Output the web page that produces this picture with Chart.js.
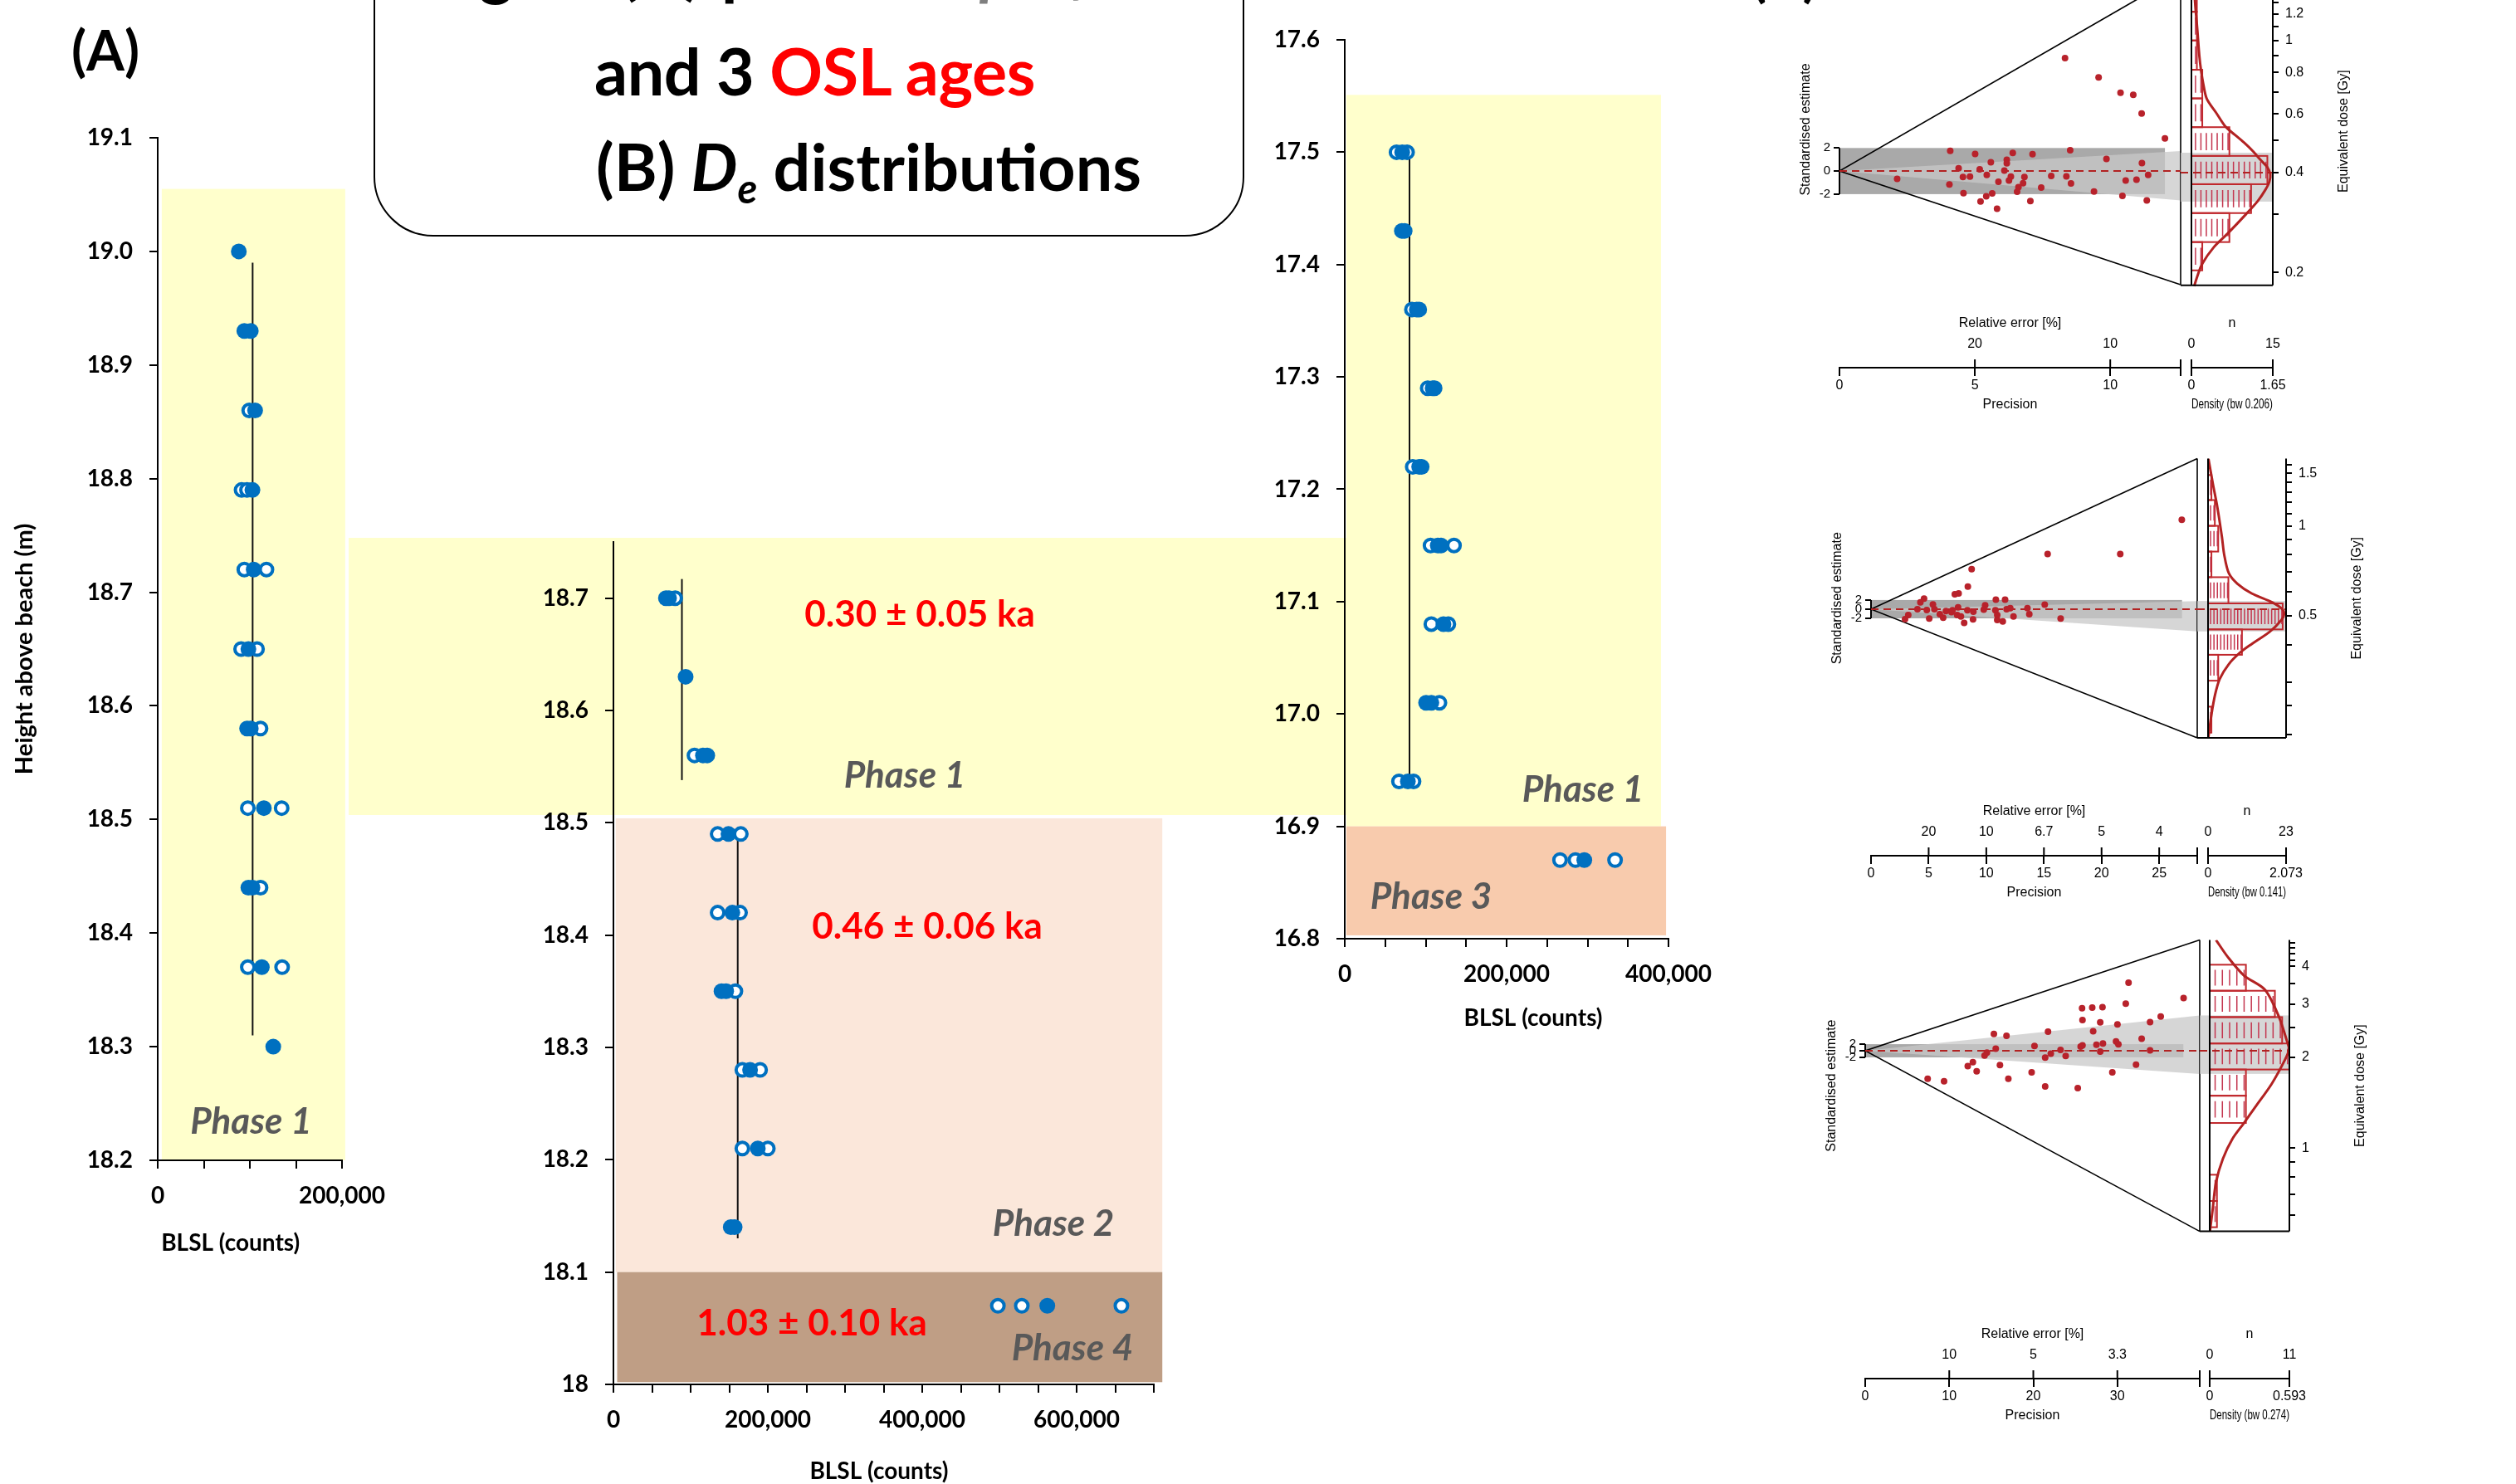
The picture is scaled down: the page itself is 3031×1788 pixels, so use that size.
<!DOCTYPE html>
<html lang="en">
<head>
<meta charset="utf-8">
<title>BLSL profiles, OSL ages and De distributions</title>
<script src="https://cdn.jsdelivr.net/npm/chart.js@4.4.1/dist/chart.umd.min.js"></script>
<style>
  html, body { margin: 0; padding: 0; background: #ffffff; }
  body { position: relative; width: 3031px; height: 1788px; overflow: hidden;
         font-family: Lato, "Open Sans", "DejaVu Sans", sans-serif; }
  canvas, .abs { position: absolute; }
  #phase1Link { left: 420px; top: 648px; width: 1202px; height: 334px; background: #FFFFCC; }
  #titleBox { left: 450px; top: -230px; width: 1045px; height: 511px;
              border: 2.5px solid #000; border-radius: 72px; background: #fff; }
  .head { font-weight: 700; font-size: 79px; line-height: 1; white-space: nowrap; color: #000; }
  .panel { font-weight: 700; font-size: 66px; line-height: 1; white-space: nowrap; color: #000; }
  .red { color: #FF0000; }
  .soft { color: #7F7F7F; font-style: italic; }
  .sub { font-size: 0.62em; font-style: italic; position: relative; top: 0.3em; }
</style>
</head>
<body>
<div class="abs" id="phase1Link"></div>
<div class="abs" id="titleBox"></div>
<div class="abs head" style="left:512px; top:-79px;">Figure</div>
<div class="abs head" style="left:747px; top:-79px;">(A)</div>
<div class="abs head" style="left:869px; top:-79px;">portable</div>
<div class="abs head soft" style="left:1180px; top:-79px;">profiles</div>
<div class="abs head" style="left:716px; top:45px; letter-spacing:-0.4px;">and 3 <span class="red">OSL ages</span></div>
<div class="abs head" style="left:718px; top:160px;">(B) <i>D</i><span class="sub">e</span> distributions</div>
<div class="abs panel" style="left:86px; top:27px;">(A)</div>
<div class="abs panel" style="left:2110px; top:-63px;">(B)</div>

<script>
// ================= (A) BLSL profiles =================
// Sampling heights (m above beach) and BLSL counts of each aliquot (filled / open markers).

// Left section
const leftHeights = [19.00, 18.93, 18.86, 18.79, 18.72, 18.65, 18.58, 18.51, 18.44, 18.37, 18.30];
const leftFilled  = [[88000], [94000, 101000], [105700], [102800], [104200], [98400], [97000, 101000], [115200], [98400, 102800], [113000], [125400]];
const leftOpen    = [[], [], [99300], [91000, 96900], [94000, 118000], [90500, 107800], [111600], [97800, 134500], [111600], [97800, 135000], []];
const leftMeans   = [{ x: 103000, from: 18.31, to: 18.99 }];
const leftPhases  = [{ name: 'Phase 1', x: [4400, 203500], y: [18.2, 19.055] }];

// Middle section
const midHeights = [18.70, 18.63, 18.56, 18.49, 18.42, 18.35, 18.28, 18.21, 18.14, 18.07];
const midFilled  = [[68000, 72000], [93500], [116000, 121500], [149000], [154000], [140000, 146000], [177000], [187000], [152000, 157000], [562000]];
const midOpen    = [[80000], [], [105000], [135000, 165000], [135000, 164000], [158000], [167000, 190000], [167000, 200000], [], [498000, 529000, 658000]];
const midMeans   = [{ x: 88700, from: 18.538, to: 18.717 }, { x: 161000, from: 18.13, to: 18.496 }];
const midPhases  = [{ name: 'Phase 2', x: [3000, 711000], y: [18.1, 18.504] },
                    { name: 'Phase 4', x: [4800, 711000], y: [18.002, 18.1] }];
const midAges    = ['0.30 ± 0.05 ka', '0.46 ± 0.06 ka', '1.03 ± 0.10 ka'];

// Right section
const rightHeights = [17.50, 17.43, 17.36, 17.29, 17.22, 17.15, 17.08, 17.01, 16.94, 16.87];
const rightFilled  = [[71000], [70600, 74000], [89000, 92000], [108600, 111000], [92000, 95000], [115000, 119000], [122000], [100500, 107000], [78000], [296000]];
const rightOpen    = [[64000, 77000], [], [83000], [102500], [84000], [106000, 135000], [107000, 128000], [117000], [67000, 85000], [266000, 285000, 334000]];
const rightMeans   = [{ x: 80000, from: 16.943, to: 17.50 }];
const rightPhases  = [{ name: 'Phase 1', x: [2000, 390800], y: [16.9, 17.551] },
                      { name: 'Phase 3', x: [2000, 397000], y: [16.803, 16.9] }];

// ================= (B) abanico plots =================
// Upper plot
const topPrecision   = [8.33, 9.57, 10.38, 10.85, 11.16, 12.02, 4.09, 5.01, 6.40, 7.13, 8.52, 9.86, 11.17, 4.40, 5.18, 5.59, 6.18, 6.18, 6.09, 5.44, 4.56, 4.82, 6.33, 6.83, 2.13, 5.87, 6.26, 7.82, 8.38, 8.55, 6.78, 6.61, 10.57, 10.97, 11.40, 4.06, 7.45, 6.56, 4.58, 5.64, 5.42, 5.21, 7.05, 9.40, 10.45, 11.35, 5.82];
const topStdEstimate = [9.79, 8.13, 6.79, 6.62, 5.00, 2.83, 1.75, 1.49, 1.58, 1.47, 1.80, 1.06, 0.70, 0.24, 0.15, 0.77, 0.98, 0.67, 0.05, -0.34, -0.52, -0.48, -0.48, -0.52, -0.67, -0.93, -0.82, -0.43, -0.46, -1.08, -1.06, -1.39, -0.82, -0.75, -0.34, -1.16, -1.44, -1.80, -1.92, -1.94, -2.19, -2.64, -2.60, -1.78, -2.16, -2.55, -3.27];
const topBinEdges    = [0.203, 0.247, 0.302, 0.369, 0.449, 0.548, 0.669, 0.816, 1.0, 1.22, 1.49];
const topCounts      = [2, 7, 11, 14, 7, 2, 2, 1, 1, 1];
const topKdeDose     = [0.182, 0.195, 0.212, 0.238, 0.262, 0.30, 0.329, 0.355, 0.375, 0.395, 0.415, 0.437, 0.465, 0.492, 0.52, 0.55, 0.606, 0.668, 0.74, 0.808, 0.9, 1.076, 1.3, 1.55];
const topKdeDensity  = [0.056, 0.12, 0.215, 0.45, 0.735, 1.11, 1.35, 1.50, 1.58, 1.60, 1.54, 1.40, 1.24, 1.07, 0.88, 0.69, 0.50, 0.31, 0.24, 0.197, 0.16, 0.12, 0.074, 0.05];
const topDoseLabels  = [0.2, 0.4, 0.6, 0.8, 1, 1.2];
const topDoseMinor   = [0.3, 0.5, 0.7, 0.9, 1.1, 1.3, 1.4, 1.5];
const topPrecTicks   = [0, 5, 10];
const topRelErrAt    = [5, 10];
const topRelErrText  = ['20', '10'];

// Middle plot
const midPrecision   = [26.96, 15.32, 21.62, 8.73, 8.40, 7.27, 7.60, 4.60, 4.28, 5.37, 10.83, 11.63, 15.07, 9.90, 4.03, 4.84, 7.55, 8.36, 8.88, 9.78, 10.79, 11.76, 12.08, 13.57, 13.73, 5.97, 6.50, 6.98, 5.05, 6.26, 7.47, 7.80, 8.08, 8.85, 10.95, 10.95, 11.43, 12.36, 3.23, 2.95, 16.45, 5.50, 7.07];
const midStdEstimate = [19.5, 12.02, 12.02, 8.73, 4.92, 3.25, 3.44, 2.28, 1.50, 1.05, 2.08, 2.08, 0.98, 0.85, 0.0, -0.18, 0.40, -0.25, -0.56, -0.10, -0.25, 0.0, 0.20, 0.20, -1.08, -1.08, -0.43, -0.63, -2.06, -1.86, -1.27, -1.61, -3.02, -2.24, -1.27, -2.37, -2.69, -1.61, -1.27, -2.17, -2.06, 0.0, -0.25];
const midBinEdges    = [0.203, 0.248, 0.303, 0.37, 0.45, 0.55, 0.673, 0.82, 1.0, 1.22, 1.48];
const midCounts      = [1, 0, 3, 10, 22, 6, 1, 3, 2, 1];
const midKdeDose     = [0.196, 0.233, 0.273, 0.307, 0.344, 0.377, 0.402, 0.442, 0.484, 0.505, 0.525, 0.554, 0.594, 0.64, 0.695, 0.8, 0.916, 1.15, 1.38, 1.68];
const midKdeDensity  = [0.01, 0.09, 0.19, 0.31, 0.55, 0.86, 1.16, 1.64, 1.95, 2.02, 1.98, 1.71, 1.16, 0.78, 0.55, 0.43, 0.37, 0.25, 0.13, 0.01];
const midDoseLabels  = [0.5, 1, 1.5];
const midDoseMinor   = [0.2, 0.25, 0.3, 0.4, 0.6, 0.7, 0.8, 0.9, 1.1, 1.2, 1.3, 1.4, 1.6];
const midPrecTicks   = [0, 5, 10, 15, 20, 25];
const midRelErrAt    = [5, 10, 15, 20, 25];
const midRelErrText  = ['20', '10', '6.7', '5', '4'];

// Lower plot
const lowPrecision   = [7.43, 9.38, 12.20, 12.81, 13.26, 14.20, 14.48, 15.31, 15.53, 16.03, 16.81, 17.03, 19.80, 20.14, 21.41, 21.41, 21.75, 22.08, 23.24, 23.85, 25.29, 25.63, 25.80, 25.85, 25.85, 27.01, 27.12, 27.51, 27.96, 27.96, 28.23, 28.28, 29.40, 29.84, 30.01, 30.12, 31.00, 31.33, 32.22, 32.89, 33.89, 33.89, 35.16, 37.88];
const lowStdEstimate = [-8.54, -9.24, -4.65, -3.46, -6.26, -1.46, -0.56, 5.13, 0.63, -4.34, 4.52, -8.54, -6.54, 1.44, -2.07, -10.83, 5.83, -0.86, 0.23, -1.57, -11.34, 1.24, 12.90, 9.32, 1.64, 13.10, 5.93, 1.84, -0.25, 8.61, 13.21, 2.22, -6.54, 2.83, 8.03, 1.94, 14.32, 20.71, -4.24, 3.64, 8.71, 0.13, 10.43, 16.01];
const lowBinEdges    = [0.546, 0.667, 0.815, 0.995, 1.21, 1.49, 1.82, 2.22, 2.715, 3.32, 4.05];
const lowCounts      = [1, 1, 0, 0, 5, 5, 11, 10, 9, 5];
const lowKdeDose     = [0.53, 0.63, 0.77, 0.92, 1.07, 1.21, 1.37, 1.63, 1.96, 2.12, 2.26, 2.73, 3.35, 3.73, 4.30, 4.89];
const lowKdeDensity  = [0.002, 0.023, 0.047, 0.098, 0.168, 0.255, 0.341, 0.461, 0.56, 0.59, 0.575, 0.514, 0.41, 0.255, 0.134, 0.047];
const lowDoseLabels  = [1, 2, 3, 4];
const lowDoseMinor   = [0.6, 0.7, 0.8, 0.9, 2.5, 3.5, 4.2, 4.4, 4.6, 4.8];
const lowPrecTicks   = [0, 10, 20, 30];
const lowRelErrAt    = [10, 20, 30];
const lowRelErrText  = ['10', '5', '3.3'];

// ================= styles =================
const BLUE = '#0070C0';
const PHASE_FILL = { 'Phase 1': '#FFFFCC', 'Phase 2': '#FBE7DA', 'Phase 3': '#F8CBAD', 'Phase 4': '#BF9E85' };
const LABEL_FONT = 'Lato, "Open Sans", sans-serif';
const R_FONT = '"Liberation Sans", Arial, sans-serif';
const PHASE_NOTE = { font: 'italic bold 44px ' + LABEL_FONT, color: '#595959' };
const AGE_NOTE = { font: 'bold 44px ' + LABEL_FONT, color: '#FF0000' };
const DOT_RED = '#B8222B';
const LINE_RED = '#B22222';
const HIST_RED = '#C0282D';
const RUG_RED = '#C4364F';
const GREY_BAR = '#A9A9A9';
const GREY_WEDGE = 'rgba(200,200,200,0.75)';

function addCanvas(id, box) {
  const c = document.createElement('canvas');
  c.id = id;
  c.width = box.w; c.height = box.h;
  c.style.left = box.x + 'px'; c.style.top = box.y + 'px';
  c.style.width = box.w + 'px'; c.style.height = box.h + 'px';
  document.body.appendChild(c);
  return c;
}

// phase shading behind each profile
const phaseBands = (bands) => ({
  id: 'phaseBands',
  beforeDraw(chart) {
    const { ctx, scales: { x, y } } = chart;
    ctx.save();
    bands.forEach(b => {
      const x0 = x.getPixelForValue(b.x[0]), x1 = x.getPixelForValue(b.x[1]);
      const y0 = y.getPixelForValue(b.y[1]), y1 = y.getPixelForValue(b.y[0]);
      ctx.fillStyle = PHASE_FILL[b.name];
      ctx.fillRect(x0, y0, x1 - x0, y1 - y0);
    });
    ctx.restore();
  }
});

// text annotations placed in data coordinates
const notes = (items) => ({
  id: 'notes',
  afterDatasetsDraw(chart) {
    const { ctx, scales: { x, y } } = chart;
    ctx.save();
    ctx.textAlign = 'center';
    ctx.textBaseline = 'middle';
    items.forEach(n => {
      ctx.font = n.style.font;
      ctx.fillStyle = n.style.color;
      ctx.fillText(n.text, x.getPixelForValue(n.x), y.getPixelForValue(n.y));
    });
    ctx.restore();
  }
});

// x-axis caption, centred on a chosen count value below the tick labels
const axisCaption = (text, at, drop) => ({
  id: 'axisCaption',
  afterDraw(chart) {
    const { ctx, scales: { x }, chartArea } = chart;
    ctx.save();
    ctx.font = 'bold 28px ' + LABEL_FONT;
    ctx.fillStyle = '#000';
    ctx.textAlign = 'center';
    ctx.textBaseline = 'middle';
    ctx.fillText(text, x.getPixelForValue(at), chartArea.bottom + drop);
    ctx.restore();
  }
});

function profileChart(cfg) {
  const B = cfg.box, A = cfg.area;
  const cv = addCanvas(cfg.id, B);
  const filledPts = [], openPts = [];
  cfg.heights.forEach((h, i) => {
    cfg.filled[i].forEach(v => filledPts.push({ x: v, y: h }));
    cfg.open[i].forEach(v => openPts.push({ x: v, y: h }));
  });
  const meanSets = cfg.means.map(m => ({
    data: [{ x: m.x, y: m.from }, { x: m.x, y: m.to }],
    showLine: true, borderColor: '#111', borderWidth: 2, pointRadius: 0
  }));
  const tickFont = { family: LABEL_FONT, size: 28, weight: 'bold' };
  const axisLine = { color: '#000', width: 2 };
  const tickMarks = { drawOnChartArea: false, drawTicks: true, tickLength: 10, color: '#000', lineWidth: 2 };
  return new Chart(cv, {
    type: 'scatter',
    data: { datasets: [
      { data: filledPts, pointStyle: 'circle', pointRadius: 9.5, pointBackgroundColor: BLUE, pointBorderWidth: 0 },
      { data: openPts, pointStyle: 'circle', pointRadius: 7.5, pointBackgroundColor: '#fff', pointBorderColor: BLUE, pointBorderWidth: 4 },
      ...meanSets
    ]},
    options: {
      animation: false, responsive: false, events: [],
      layout: { padding: { left: 0, top: A.t - B.y, right: B.x + B.w - A.r, bottom: 0 } },
      plugins: { legend: { display: false }, tooltip: { enabled: false } },
      scales: {
        x: {
          type: 'linear', min: 0, max: cfg.xMax,
          afterFit: s => { s.height = B.y + B.h - A.b; },
          ticks: { stepSize: 50000, autoSkip: false, maxRotation: 0, includeBounds: false, padding: 16,
                   color: '#000', font: tickFont,
                   callback: v => (v % 200000 === 0 ? v.toLocaleString('en-US') : '') },
          grid: tickMarks, border: axisLine,
          title: { display: false }
        },
        y: {
          type: 'linear', min: cfg.yMin, max: cfg.yMax,
          afterFit: s => { s.width = A.l - B.x; },
          ticks: { stepSize: 0.1, autoSkip: false, includeBounds: false, padding: 20,
                   color: '#000', font: tickFont, callback: cfg.yLabel },
          grid: tickMarks, border: axisLine,
          title: cfg.yTitle
            ? { display: true, text: cfg.yTitle, color: '#000',
                font: { family: LABEL_FONT, size: 29, weight: 'bold' }, padding: { top: 12, bottom: 0 } }
            : { display: false }
        }
      }
    },
    plugins: [phaseBands(cfg.bands), notes(cfg.notes), axisCaption('BLSL (counts)', cfg.captionAt, cfg.captionDrop)]
  });
}

const oneDecimal = v => (Math.round(v * 10) / 10).toFixed(1);

profileChart({
  id: 'profileLeft', box: { x: 0, y: 0, w: 480, h: 1540 }, area: { l: 190, t: 166, r: 417, b: 1398 },
  xMax: 200000, yMin: 18.2, yMax: 19.1, yLabel: oneDecimal, yTitle: 'Height above beach (m)',
  captionAt: 79000, captionDrop: 100,
  heights: leftHeights, filled: leftFilled, open: leftOpen, means: leftMeans, bands: leftPhases,
  notes: [{ text: 'Phase 1', x: 101300, y: 18.234, style: PHASE_NOTE }]
});

profileChart({
  id: 'profileMiddle', box: { x: 600, y: 600, w: 830, h: 1250 }, area: { l: 739, t: 653, r: 1390, b: 1668 },
  xMax: 700000, yMin: 18.0, yMax: 18.75, captionAt: 344000, captionDrop: 105,
  yLabel: v => { const r = Math.round(v * 10) / 10; return r === 18 ? '18' : r.toFixed(1); },
  heights: midHeights, filled: midFilled, open: midOpen, means: midMeans, bands: midPhases,
  notes: [
    { text: midAges[0], x: 396800, y: 18.685, style: AGE_NOTE },
    { text: midAges[1], x: 406500, y: 18.407, style: AGE_NOTE },
    { text: midAges[2], x: 257000, y: 18.054, style: AGE_NOTE },
    { text: 'Phase 1', x: 377400, y: 18.542, style: PHASE_NOTE },
    { text: 'Phase 2', x: 570000, y: 18.143, style: PHASE_NOTE },
    { text: 'Phase 4', x: 594600, y: 18.032, style: PHASE_NOTE }
  ]
});

profileChart({
  id: 'profileRight', box: { x: 1440, y: 0, w: 640, h: 1300 }, area: { l: 1620, t: 48, r: 2010, b: 1131 },
  xMax: 400000, yMin: 16.8, yMax: 17.6, yLabel: oneDecimal, captionAt: 232800, captionDrop: 96,
  heights: rightHeights, filled: rightFilled, open: rightOpen, means: rightMeans, bands: rightPhases,
  notes: [
    { text: 'Phase 1', x: 294400, y: 16.932, style: PHASE_NOTE },
    { text: 'Phase 3', x: 106700, y: 16.837, style: PHASE_NOTE }
  ]
});

// ---------- abanico plot: radial part + KDE / histogram part ----------
function abanico(D, L) {
  const P = D.precMax;
  const lnSpan = Math.log(D.doseMax / D.doseMin);
  const stretch = (L.axisY - L.plotTop) / (L.plotBottom - L.plotTop);
  const sTop = Math.log(D.doseMax / D.central) * P;
  const sBottom = Math.log(D.doseMin / D.central) * P;
  const sLow = sTop - lnSpan * P * stretch;
  const doseLow = D.doseMax * Math.exp(-lnSpan * stretch);
  const gap = L.kdeL - L.xR;
  const axisH = L.top + L.height - L.axisY;
  const small = { family: R_FONT, size: 16 };
  const radBox = { x: L.radX, y: L.top, w: L.radW, h: L.height };
  const kdeBox = { x: L.kdeX, y: L.top, w: L.kdeW, h: L.height };

  const radialFrame = {
    id: 'radialFrame',
    beforeDatasetsDraw(chart) {
      const { ctx, scales: { x, y } } = chart;
      const X = v => x.getPixelForValue(v), Y = v => y.getPixelForValue(v);
      ctx.save();
      ctx.fillStyle = GREY_BAR;
      ctx.fillRect(X(0), Y(2), X(D.barEnd) - X(0), Y(-2) - Y(2));
      ctx.fillStyle = GREY_WEDGE;
      ctx.beginPath();
      ctx.moveTo(X(0), Y(0));
      ctx.lineTo(X(P), Y(Math.log(D.wedge[1] / D.central) * P));
      ctx.lineTo(X(P), Y(Math.log(D.wedge[0] / D.central) * P));
      ctx.closePath();
      ctx.fill();
      ctx.strokeStyle = '#000';
      ctx.lineWidth = 1.6;
      ctx.beginPath();
      ctx.moveTo(X(P), Y(sTop)); ctx.lineTo(X(0), Y(0)); ctx.lineTo(X(P), Y(sBottom));
      ctx.moveTo(X(P), Y(sTop)); ctx.lineTo(X(P), Y(sBottom));
      ctx.stroke();
      ctx.lineWidth = 2;
      ctx.beginPath(); ctx.moveTo(X(0), Y(2)); ctx.lineTo(X(0), Y(-2)); ctx.stroke();
      ctx.strokeStyle = LINE_RED;
      ctx.setLineDash([9, 6]);
      ctx.beginPath(); ctx.moveTo(X(0), Y(0)); ctx.lineTo(X(P), Y(0)); ctx.stroke();
      ctx.restore();
    },
    afterDraw(chart) {
      const { ctx, scales: { x, y }, chartArea } = chart;
      const base = chartArea.bottom;
      ctx.save();
      ctx.strokeStyle = '#000';
      ctx.lineWidth = 2;
      ctx.beginPath();
      D.relErrAt.concat([P]).forEach(v => {
        const px = x.getPixelForValue(v);
        ctx.moveTo(px, base); ctx.lineTo(px, base - 10);
      });
      ctx.stroke();
      ctx.fillStyle = '#000';
      ctx.font = '16px ' + R_FONT;
      ctx.textAlign = 'center';
      ctx.textBaseline = 'middle';
      D.relErrAt.forEach((v, i) => ctx.fillText(D.relErrText[i], x.getPixelForValue(v), base - 28));
      ctx.fillText('Relative error [%]', (chartArea.left + chartArea.right) / 2, base - 53);
      const mid = (y.getPixelForValue(sTop) + y.getPixelForValue(sBottom)) / 2;
      ctx.translate(chartArea.left - 40, mid);
      ctx.rotate(-Math.PI / 2);
      ctx.fillText('Standardised estimate', 0, 0);
      ctx.restore();
    }
  };

  new Chart(addCanvas(L.id + 'Radial', radBox), {
    type: 'scatter',
    data: { datasets: [{
      data: D.precision.map((p, i) => ({ x: p, y: D.std[i] })),
      pointRadius: 4, pointBackgroundColor: DOT_RED, pointBorderWidth: 0
    }]},
    options: {
      animation: false, responsive: false, events: [],
      layout: { padding: { left: 0, top: L.plotTop - L.top, right: radBox.x + radBox.w - L.xR, bottom: 0 } },
      plugins: { legend: { display: false }, tooltip: { enabled: false } },
      scales: {
        x: {
          type: 'linear', min: 0, max: P,
          afterBuildTicks: s => { s.ticks = D.precTicks.concat([P]).map(v => ({ value: v })); },
          afterFit: s => { s.height = axisH; },
          ticks: { autoSkip: false, maxRotation: 0, padding: 1.5, color: '#000', font: small,
                   callback: v => (D.precTicks.includes(v) ? String(v) : '') },
          grid: { drawOnChartArea: false, tickLength: 10, color: '#000', lineWidth: 2 },
          border: { color: '#000', width: 2 },
          title: { display: true, text: 'Precision', color: '#000', font: small,
                   padding: { top: 0, bottom: axisH - 9.6 - 45 } }
        },
        y: {
          type: 'linear', min: sLow, max: sTop,
          afterBuildTicks: s => { s.ticks = [2, 0, -2].map(v => ({ value: v })); },
          afterFit: s => { s.width = L.apexX - radBox.x; },
          ticks: { autoSkip: false, padding: 4, color: '#000', font: { family: R_FONT, size: 15 },
                   callback: v => String(v) },
          grid: { drawOnChartArea: false, tickLength: 7, color: '#000', lineWidth: 2 },
          border: { display: false }
        }
      }
    },
    plugins: [radialFrame]
  });

  const kdeFrame = {
    id: 'kdeFrame',
    beforeDatasetsDraw(chart) {
      const { ctx, scales: { x, y }, chartArea } = chart;
      const X = v => x.getPixelForValue(v), Y = v => y.getPixelForValue(v);
      const left = chartArea.left - gap;
      const unit = D.densityMax / D.countMax;
      ctx.save();
      ctx.fillStyle = GREY_WEDGE;
      ctx.fillRect(left, Y(D.wedge[1]), chartArea.right - left, Y(D.wedge[0]) - Y(D.wedge[1]));
      D.counts.forEach((n, i) => {
        if (!n) return;
        const yTop = Y(D.binEdges[i + 1]), yBot = Y(D.binEdges[i]);
        const h = yBot - yTop;
        ctx.strokeStyle = HIST_RED;
        ctx.lineWidth = 2;
        ctx.strokeRect(X(0), yTop, X(n * unit) - X(0), h);
        ctx.strokeStyle = RUG_RED;
        ctx.lineWidth = 1.5;
        ctx.beginPath();
        for (let k = 0; k < n; k++) {
          const px = X((k + 0.75) * unit);
          ctx.moveTo(px, yTop + h * 0.2);
          ctx.lineTo(px, yBot - h * 0.2);
        }
        ctx.stroke();
      });
      ctx.strokeStyle = LINE_RED;
      ctx.lineWidth = 2;
      ctx.setLineDash([9, 6]);
      ctx.beginPath();
      ctx.moveTo(left, Y(D.central)); ctx.lineTo(chartArea.right, Y(D.central));
      ctx.stroke();
      ctx.restore();
    },
    afterDatasetsDraw(chart) {
      const { ctx, scales: { y }, chartArea } = chart;
      const yMin = y.getPixelForValue(D.doseMin);
      ctx.save();
      ctx.strokeStyle = '#000';
      ctx.lineWidth = 2;
      ctx.beginPath();
      ctx.moveTo(chartArea.left, chartArea.top); ctx.lineTo(chartArea.left, yMin);
      ctx.moveTo(chartArea.left - gap, yMin); ctx.lineTo(chartArea.right, yMin);
      ctx.moveTo(chartArea.right, chartArea.top); ctx.lineTo(chartArea.right, yMin);
      ctx.stroke();
      ctx.restore();
    },
    afterDraw(chart) {
      const { ctx, scales: { x, y }, chartArea } = chart;
      const base = chartArea.bottom;
      ctx.save();
      ctx.strokeStyle = '#000';
      ctx.lineWidth = 2;
      ctx.beginPath();
      [0, D.densityMax].forEach(v => {
        const px = x.getPixelForValue(v);
        ctx.moveTo(px, base); ctx.lineTo(px, base - 10);
      });
      ctx.stroke();
      ctx.fillStyle = '#000';
      ctx.font = '16px ' + R_FONT;
      ctx.textAlign = 'center';
      ctx.textBaseline = 'middle';
      ctx.fillText('0', x.getPixelForValue(0), base - 28);
      ctx.fillText(String(D.countMax), x.getPixelForValue(D.densityMax), base - 28);
      ctx.fillText('n', (chartArea.left + chartArea.right) / 2, base - 53);
      const mid = (y.getPixelForValue(D.doseMax) + y.getPixelForValue(D.doseMin)) / 2;
      ctx.translate(chartArea.right + 86, mid);
      ctx.rotate(-Math.PI / 2);
      ctx.fillText('Equivalent dose [Gy]', 0, 0);
      ctx.restore();
    }
  };

  new Chart(addCanvas(L.id + 'Kde', kdeBox), {
    type: 'scatter',
    data: { datasets: [{
      data: D.kdeDose.map((d, i) => ({ x: D.kdeDensity[i], y: d })),
      showLine: true, tension: 0.3, borderColor: LINE_RED, borderWidth: 3, pointRadius: 0
    }]},
    options: {
      animation: false, responsive: false, events: [],
      layout: { padding: { left: L.kdeL - kdeBox.x, top: L.plotTop - L.top, right: 0, bottom: 0 } },
      plugins: { legend: { display: false }, tooltip: { enabled: false } },
      scales: {
        x: {
          type: 'linear', min: 0, max: D.densityMax,
          afterBuildTicks: s => { s.ticks = [{ value: 0 }, { value: D.densityMax }]; },
          afterFit: s => { s.height = axisH; },
          ticks: { autoSkip: false, maxRotation: 0, padding: 1.5, color: '#000', font: small,
                   callback: v => String(v) },
          grid: { drawOnChartArea: false, tickLength: 10, color: '#000', lineWidth: 2 },
          border: { color: '#000', width: 2 },
          title: { display: true, text: 'Density (bw ' + D.bandwidth + ')', color: '#000', font: small,
                   padding: { top: 0, bottom: axisH - 9.6 - 45 } }
        },
        y: {
          type: 'logarithmic', position: 'right', min: doseLow, max: D.doseMax,
          afterBuildTicks: s => { s.ticks = D.doseLabels.concat(D.doseMinor).map(v => ({ value: v })); },
          afterFit: s => { s.width = kdeBox.x + kdeBox.w - L.kdeR; },
          ticks: { autoSkip: false, padding: 8, color: '#000', font: small,
                   callback: v => (D.doseLabels.includes(v) ? String(v) : '') },
          grid: { drawOnChartArea: false, tickLength: 7, color: '#000', lineWidth: 2 },
          border: { display: false }
        }
      }
    },
    plugins: [kdeFrame]
  });
}

abanico(
  { precision: topPrecision, std: topStdEstimate, precMax: 12.6, barEnd: 12.02, central: 0.4,
    doseMin: 0.183, doseMax: 1.55, wedge: [0.327, 0.459],
    binEdges: topBinEdges, counts: topCounts, countMax: 15, densityMax: 1.65, bandwidth: '0.206',
    kdeDose: topKdeDose, kdeDensity: topKdeDensity, doseLabels: topDoseLabels, doseMinor: topDoseMinor,
    precTicks: topPrecTicks, relErrAt: topRelErrAt, relErrText: topRelErrText },
  { id: 'abanicoTop', top: -45, height: 563, radX: 2120, radW: 520, kdeX: 2600, kdeW: 330,
    apexX: 2216, xR: 2627, kdeL: 2640, kdeR: 2738, plotTop: -31, plotBottom: 343, axisY: 443 }
);

abanico(
  { precision: midPrecision, std: midStdEstimate, precMax: 28.3, barEnd: 26.98, central: 0.526,
    doseMin: 0.195, doseMax: 1.68, wedge: [0.443, 0.56],
    binEdges: midBinEdges, counts: midCounts, countMax: 23, densityMax: 2.073, bandwidth: '0.141',
    kdeDose: midKdeDose, kdeDensity: midKdeDensity, doseLabels: midDoseLabels, doseMinor: midDoseMinor,
    precTicks: midPrecTicks, relErrAt: midRelErrAt, relErrText: midRelErrText },
  { id: 'abanicoMid', top: 520, height: 586, radX: 2150, radW: 510, kdeX: 2620, kdeW: 320,
    apexX: 2254, xR: 2647, kdeL: 2660, kdeR: 2754, plotTop: 552.5, plotBottom: 889, axisY: 1031 }
);

abanico(
  { precision: lowPrecision, std: lowStdEstimate, precMax: 39.8, barEnd: 37.85, central: 2.10,
    doseMin: 0.529, doseMax: 4.89, wedge: [1.76, 2.75],
    binEdges: lowBinEdges, counts: lowCounts, countMax: 11, densityMax: 0.593, bandwidth: '0.274',
    kdeDose: lowKdeDose, kdeDensity: lowKdeDensity, doseLabels: lowDoseLabels, doseMinor: lowDoseMinor,
    precTicks: lowPrecTicks, relErrAt: lowRelErrAt, relErrText: lowRelErrText },
  { id: 'abanicoLow', top: 1100, height: 636, radX: 2150, radW: 513, kdeX: 2622, kdeW: 328,
    apexX: 2247, xR: 2650, kdeL: 2662, kdeR: 2758, plotTop: 1132.6, plotBottom: 1483.6, axisY: 1661 }
);
</script>
</body>
</html>
